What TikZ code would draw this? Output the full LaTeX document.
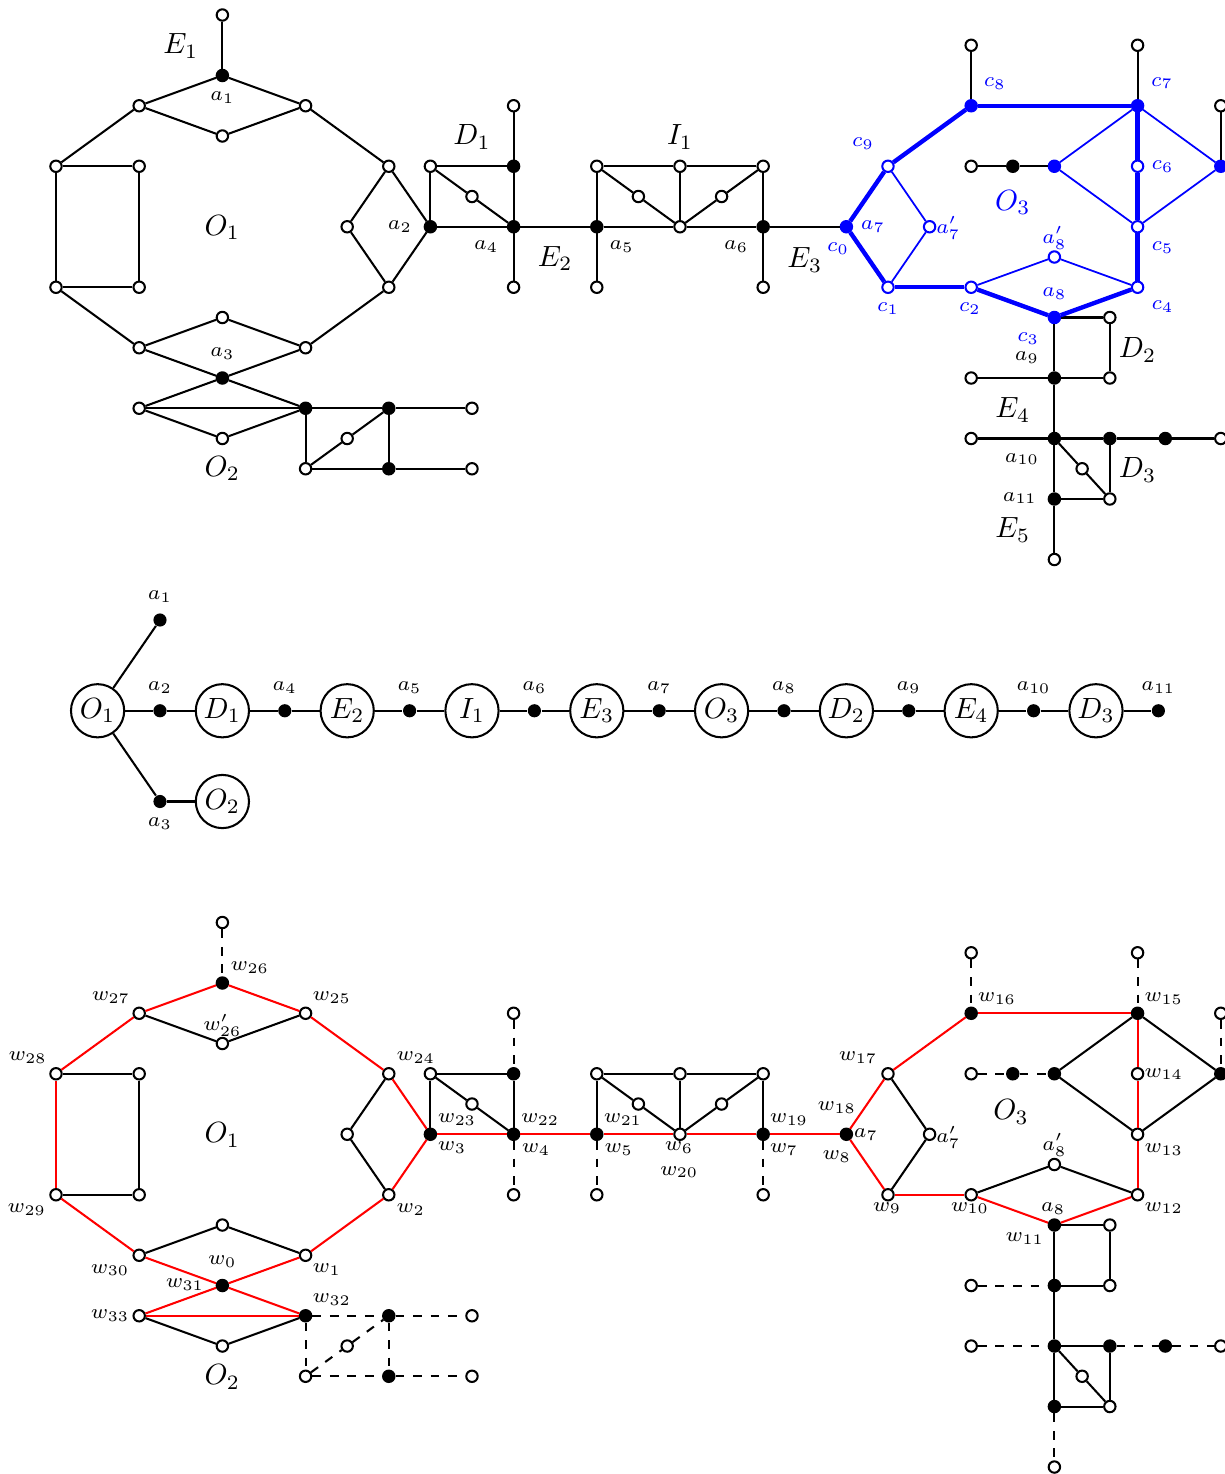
\documentclass[tikz,border=0pt]{standalone}
\begin{document}
\begin{tikzpicture}[x=0.5cm, y=-0.36359cm,
  vtx/.style={circle, line width=0.7pt, inner sep=0pt, minimum size=3.9pt},
  ed/.style={line width=0.7pt},
  dsh/.style={line width=0.7pt, dashed},
  rd/.style={line width=0.7pt, red},
  bthk/.style={line width=1.5pt, blue},
  bthn/.style={line width=0.6pt, blue},
  lab/.style={font=\scriptsize, inner sep=0pt},
  big/.style={inner sep=0pt},
  qn/.style={circle, draw, line width=0.7pt, minimum size=18.2pt, inner sep=0pt},
  qd/.style={circle, fill=black, inner sep=0pt, minimum size=4.5pt}]
\useasboundingbox (-1.346,-0.496) rectangle (28.101,48.231);

% the graph (A) and its copy with the closed walk (C)
\foreach \s/\dy/\oc in {A/0/blue, C/30/black}{
  \colorlet{ocol}{\oc}
  \begin{scope}[shift={(0,\dy)}]
    \foreach \n/\x/\y/\fc/\dc in {
      e1t/4/0/white/black, a1/4/2/black/black,
      p1/2/3/white/black, p2/6/3/white/black, p3/4/4/white/black,
      q1/0/5/white/black, q2/2/5/white/black, q3/0/9/white/black, q4/2/9/white/black,
      r1/8/5/white/black, r2/7/7/white/black, r3/8/9/white/black, a2/9/7/black/black,
      t1/2/11/white/black, t2/4/10/white/black, t3/6/11/white/black, a3/4/12/black/black,
      u1/2/13/white/black, u2/4/14/white/black, u3/6/13/black/black,
      x1/8/13/black/black, x2/10/13/white/black, x3/6/15/white/black,
      x4/7/14/white/black, x5/8/15/black/black, x6/10/15/white/black,
      d1/9/5/white/black, d2/10/6/white/black, d3/11/5/black/black,
      d4/11/3/white/black, a4/11/7/black/black, d5/11/9/white/black,
      a5/13/7/black/black, a5b/13/9/white/black,
      i1/13/5/white/black, i2/15/5/white/black, i3/17/5/white/black,
      i4/14/6/white/black, i5/15/7/white/black, i6/16/6/white/black,
      a6/17/7/black/black, a6b/17/9/white/black,
      a7/19/7/ocol/ocol, c9/20/5/white/ocol, c1/20/9/white/ocol, a7p/21/7/white/ocol,
      c8/22/3/ocol/ocol, c8t/22/1/white/black, c7/26/3/ocol/ocol, c7t/26/1/white/black,
      c6/26/5/white/ocol, c5/26/7/white/ocol, m1/24/5/ocol/ocol, m2/23/5/black/black,
      m3/22/5/white/black, m4/28/5/ocol/ocol, m5/28/3/white/black,
      c4/26/9/white/ocol, c2/22/9/white/ocol, a8p/24/8/white/ocol, a8/24/10/ocol/ocol,
      g1/25.333/10/white/black, g2/25.333/12/white/black, a9/24/12/black/black, g3/22/12/white/black,
      a10/24/14/black/black, h1/22/14/white/black, h2/25.333/14/black/black,
      h3/26.667/14/black/black, h4/28/14/white/black, h5/24.667/15/white/black,
      h6/25.333/16/white/black, a11/24/16/black/black, h7/24/18/white/black}
      \node[vtx, draw=\dc, fill=\fc] (\s-\n) at (\x,\y) {};
  \end{scope}
}

% edges of the graph
\foreach \u/\v in {e1t/a1, a1/p1, a1/p2, p1/p3, p3/p2, p1/q1, q1/q2, q1/q3, q2/q4, q3/q4,
  p2/r1, r1/r2, r1/a2, r2/r3, a2/r3, q3/t1, r3/t3, t1/t2, t2/t3, t1/a3, a3/t3,
  a3/u1, a3/u3, u1/u3, u1/u2, u2/u3, u3/x1, x1/x2, u3/x3, x3/x4, x4/x1, x1/x5, x3/x5, x5/x6,
  a2/d1, d1/d3, d3/d4, d3/a4, d1/d2, d2/a4, a2/a4, a4/d5, a4/a5, a5/a5b,
  a5/i1, i1/i2, i2/i3, i2/i5, i1/i4, i4/i5, i5/i6, i6/i3, i3/a6, a5/i5, i5/a6, a6/a6b, a6/a7,
  c8/c8t, c7/c7t, m3/m2, m2/m1, m4/m5, a8/g1, g1/g2, a8/a9, a9/g2, a9/g3, a9/a10,
  a10/h1, a10/h2, h2/h3, h3/h4, h2/h6, a10/h5, h5/h6, a10/a11, a11/h6, a11/h7}
  \draw[ed] (A-\u) -- (A-\v);
\foreach \u/\v in {a7/c9, c9/c8, c8/c7, c7/c6, c6/c5, c5/c4, c4/a8, a8/c2, c2/c1, c1/a7}
  \draw[bthk] (A-\u) -- (A-\v);
\foreach \u/\v in {c9/a7p, a7p/c1, c2/a8p, a8p/c4, m1/c7, m1/c5, c7/m4, m4/c5}
  \draw[bthn] (A-\u) -- (A-\v);

% labels of the graph
\node[big] (lA-E1) at (3,1.03) {$E_1$};
\node[lab] (lA-a1) at (4,2.72) {$a_1$};
\node[big] (lA-O1) at (4,7.03) {$O_1$};
\node[lab] (lA-a2) at (8.27,7) {$a_2$};
\node[lab] (lA-a3) at (4,11.2) {$a_3$};
\node[big] (lA-O2) at (4,15) {$O_2$};
\node[big] (lA-D1) at (10,4.03) {$D_1$};
\node[lab] (lA-a4) at (10.34,7.67) {$a_4$};
\node[big] (lA-E2) at (12,8.05) {$E_2$};
\node[lab] (lA-a5) at (13.6,7.67) {$a_5$};
\node[big] (lA-I1) at (15,4.03) {$I_1$};
\node[lab] (lA-a6) at (16.35,7.67) {$a_6$};
\node[big] (lA-E3) at (18,8.1) {$E_3$};
\node[lab,blue] (lA-c0) at (18.8,7.72) {$c_0$};
\node[lab,blue] (lA-a7) at (19.64,7) {$a_7$};
\node[lab,blue] (lA-a7p) at (21.45,7.05) {$a'_7$};
\node[lab,blue] (lA-c9) at (19.4,4.26) {$c_9$};
\node[lab,blue] (lA-c8) at (22.57,2.28) {$c_8$};
\node[lab,blue] (lA-c7) at (26.59,2.25) {$c_7$};
\node[big,blue] (lA-O3) at (23,6.2) {$O_3$};
\node[lab,blue] (lA-c6) at (26.6,5) {$c_6$};
\node[lab,blue] (lA-a8p) at (24,7.36) {$a'_8$};
\node[lab,blue] (lA-c5) at (26.6,7.7) {$c_5$};
\node[lab,blue] (lA-a8) at (24,9.22) {$a_8$};
\node[lab,blue] (lA-c1) at (20,9.72) {$c_1$};
\node[lab,blue] (lA-c2) at (21.97,9.72) {$c_2$};
\node[lab,blue] (lA-c4) at (26.6,9.65) {$c_4$};
\node[lab,blue] (lA-c3) at (23.37,10.71) {$c_3$};
\node[lab] (lA-a9) at (23.34,11.31) {$a_9$};
\node[big] (lA-D2) at (26,11.07) {$D_2$};
\node[big] (lA-E4) at (23,13.06) {$E_4$};
\node[lab] (lA-a10) at (23.22,14.68) {$a_{10}$};
\node[big] (lA-D3) at (26,15.04) {$D_3$};
\node[lab] (lA-a11) at (23.17,15.97) {$a_{11}$};
\node[big] (lA-E5) at (23,17.02) {$E_5$};

% the tree of blocks
\node[qn] (B-O1) at (1,23) {$O_1$};
\node[qn] (B-D1) at (4,23) {$D_1$};
\node[qn] (B-E2) at (7,23) {$E_2$};
\node[qn] (B-I1) at (10,23) {$I_1$};
\node[qn] (B-E3) at (13,23) {$E_3$};
\node[qn] (B-O3) at (16,23) {$O_3$};
\node[qn] (B-D2) at (19,23) {$D_2$};
\node[qn] (B-E4) at (22,23) {$E_4$};
\node[qn] (B-D3) at (25,23) {$D_3$};
\node[qn] (B-O2) at (4,26) {$O_2$};
\foreach \n/\x/\y in {a1/2.5/20, a2/2.5/23, a4/5.5/23, a5/8.5/23, a6/11.5/23, a7/14.5/23,
  a8/17.5/23, a9/20.5/23, a10/23.5/23, a11/26.5/23, a3/2.5/26}
  \node[qd] (B-\n) at (\x,\y) {};
\foreach \u/\v in {O1/a1, O1/a2, a2/D1, D1/a4, a4/E2, E2/a5, a5/I1, I1/a6, a6/E3, E3/a7,
  a7/O3, O3/a8, a8/D2, D2/a9, a9/E4, E4/a10, a10/D3, D3/a11, O1/a3, a3/O2}
  \draw[ed] (B-\u) -- (B-\v);
\node[lab] (lB-a1) at (2.5,19.24) {$a_1$};
\foreach \n/\x in {2/2.5, 4/5.5, 5/8.5, 6/11.5, 7/14.5, 8/17.5, 9/20.5, 10/23.5, 11/26.5}
  \node[lab] (lB-a\n) at (\x,22.24) {$a_{\n}$};
\node[lab] (lB-a3) at (2.5,26.73) {$a_3$};

% the closed walk in the copy
\foreach \u/\v in {t1/a3, a3/u3, u1/a3, a3/t3, u1/u3, t1/q3, q3/q1, q1/p1, p1/a1, a1/p2,
  p2/r1, r1/a2, a2/r3, r3/t3, a2/a4, a4/a5, a5/i5, i5/a6, a6/a7, a7/c9, a7/c1, c1/c2,
  c2/a8, a8/c4, c4/c5, c5/c6, c6/c7, c7/c8, c8/c9}
  \draw[rd] (C-\u) -- (C-\v);
\foreach \u/\v in {p1/p3, p3/p2, q1/q2, q2/q4, q3/q4, r1/r2, r2/r3, t1/t2, t2/t3, u1/u2, u2/u3,
  a2/d1, d1/d3, d3/a4, d1/d2, d2/a4, a5/i1, i1/i2, i2/i3, i2/i5, i1/i4, i4/i5, i5/i6, i6/i3,
  i3/a6, c9/a7p, a7p/c1, c2/a8p, a8p/c4, m1/c7, m1/c5, c7/m4, m4/c5, a8/g1, g1/g2, a8/a9,
  a9/g2, a9/a10, a10/h2, a10/h5, h5/h6, h2/h6, a10/a11, a11/h6}
  \draw[ed] (C-\u) -- (C-\v);
\foreach \u/\v in {e1t/a1, u3/x1, x1/x2, u3/x3, x3/x4, x4/x1, x1/x5, x3/x5, x5/x6, d4/d3,
  a4/d5, a5/a5b, a6/a6b, c8t/c8, c7t/c7, m3/m2, m2/m1, m5/m4, g3/a9, h1/a10, h2/h3, h3/h4, a11/h7}
  \draw[dsh] (C-\u) -- (C-\v);

% labels of the walk
\node[lab] (lC-w26) at (4.66,31.5) {$w_{26}$};
\node[lab] (lC-w27) at (1.32,32.47) {$w_{27}$};
\node[lab] (lC-w25) at (6.63,32.47) {$w_{25}$};
\node[lab] (lC-w26p) at (4,33.4) {$w'_{26}$};
\node[lab] (lC-w28) at (-0.68,34.48) {$w_{28}$};
\node[lab] (lC-w24) at (8.65,34.46) {$w_{24}$};
\node[big] (lC-O1) at (4,37.03) {$O_1$};
\node[lab] (lC-w23) at (9.64,36.5) {$w_{23}$};
\node[lab] (lC-w22) at (11.64,36.5) {$w_{22}$};
\node[lab] (lC-w21) at (13.63,36.5) {$w_{21}$};
\node[lab] (lC-w19) at (17.62,36.5) {$w_{19}$};
\node[lab] (lC-w18) at (18.77,36.13) {$w_{18}$};
\node[lab] (lC-w3) at (9.52,37.45) {$w_3$};
\node[lab] (lC-w4) at (11.54,37.5) {$w_4$};
\node[lab] (lC-w5) at (13.53,37.5) {$w_5$};
\node[lab] (lC-w6) at (14.98,37.43) {$w_6$};
\node[lab] (lC-w20) at (14.98,38.25) {$w_{20}$};
\node[lab] (lC-w7) at (17.5,37.5) {$w_7$};
\node[lab] (lC-w8) at (18.77,37.75) {$w_8$};
\node[lab] (lC-a7) at (19.47,37) {$a_7$};
\node[lab] (lC-a7p) at (21.45,37.1) {$a'_7$};
\node[lab] (lC-w29) at (-0.7,39.48) {$w_{29}$};
\node[lab] (lC-w2) at (8.53,39.5) {$w_2$};
\node[lab] (lC-w9) at (19.98,39.44) {$w_9$};
\node[lab] (lC-w10) at (21.97,39.44) {$w_{10}$};
\node[lab] (lC-a8) at (23.97,39.45) {$a_8$};
\node[lab] (lC-w12) at (26.63,39.44) {$w_{12}$};
\node[lab] (lC-w11) at (23.29,40.46) {$w_{11}$};
\node[lab] (lC-w17) at (19.28,34.48) {$w_{17}$};
\node[lab] (lC-w16) at (22.62,32.5) {$w_{16}$};
\node[lab] (lC-w15) at (26.63,32.5) {$w_{15}$};
\node[lab] (lC-w14) at (26.63,35.01) {$w_{14}$};
\node[lab] (lC-w13) at (26.63,37.52) {$w_{13}$};
\node[lab] (lC-a8p) at (24,37.36) {$a'_8$};
\node[big] (lC-O3) at (22.96,36.26) {$O_3$};
\node[lab] (lC-w30) at (1.3,41.49) {$w_{30}$};
\node[lab] (lC-w0) at (4,41.22) {$w_0$};
\node[lab] (lC-w1) at (6.51,41.46) {$w_1$};
\node[lab] (lC-w31) at (3.1,41.98) {$w_{31}$};
\node[lab] (lC-w33) at (1.3,43.0) {$w_{33}$};
\node[lab] (lC-w32) at (6.63,42.47) {$w_{32}$};
\node[big] (lC-O2) at (4,45.02) {$O_2$};
\end{tikzpicture}
\end{document}
